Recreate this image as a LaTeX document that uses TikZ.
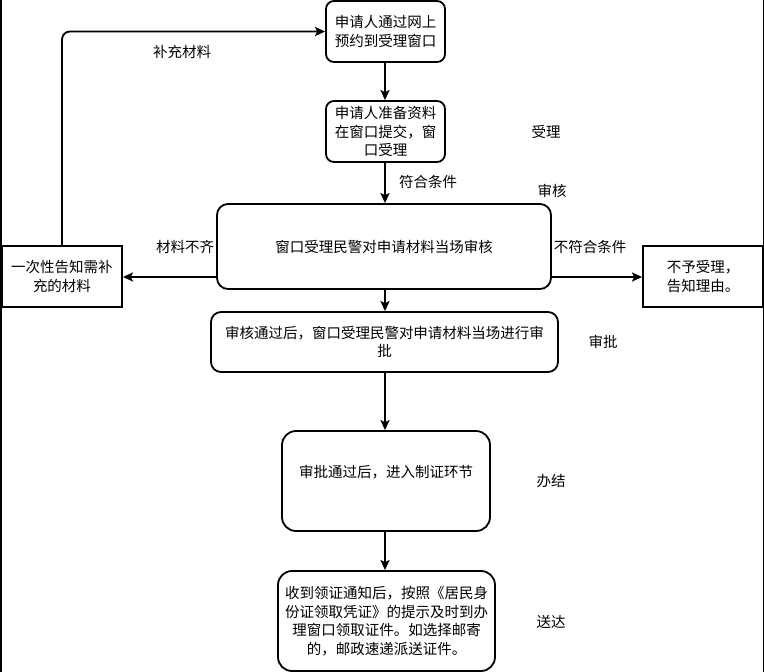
\documentclass[tikz,border=0pt]{standalone}
\usepackage{fontspec}
\setmainfont{Noto Sans CJK SC}
\usetikzlibrary{arrows.meta,calc}
\tikzset{
  box/.style={draw, line width=1.8pt, rounded corners=8pt, align=center, inner sep=2pt,
    font=\fontsize{14.5}{18.5}\selectfont},
  sqbox/.style={draw, line width=1.8pt, align=center, inner sep=2pt,
    font=\fontsize{14.5}{18.5}\selectfont},
  lbl/.style={inner sep=1pt, font=\fontsize{14.5}{18.5}\selectfont},
  arr/.style={line width=1.8pt, -{Stealth[length=10pt,width=9pt,inset=2pt]}},
}
\begin{document}
\begin{tikzpicture}[x=1pt,y=-1pt]
\useasboundingbox (0,0) rectangle (764,672);
\draw[line width=1.5pt] (0.75,0) -- (0.75,672);
\draw[line width=1.5pt] (763.25,0) -- (763.25,672);

\node[box, minimum width=119pt, minimum height=61pt] (b1) at (385.5,31.5) {申请人通过网上\\预约到受理窗口};
\node[box, minimum width=119pt, minimum height=61pt] (b2) at (385.5,131.5) {申请人准备资料\\在窗口提交，窗\\口受理};
\node[box, rounded corners=11pt, minimum width=334pt, minimum height=85pt] (b3) at (384,246.5) {窗口受理民警对申请材料当场审核};
\node[sqbox, minimum width=120pt, minimum height=61pt] (lb) at (62,276.5) {一次性告知需补\\充的材料};
\node[sqbox, minimum width=120pt, minimum height=61pt] (rb) at (703,276.5) {不予受理，\\告知理由。};
\node[box, rounded corners=10pt, minimum width=347pt, minimum height=60pt] (b4) at (384.5,342) {审核通过后，窗口受理民警对申请材料当场进行审\\批};
\node[box, rounded corners=14pt, minimum width=208pt, minimum height=100pt, text depth=19pt] (b5) at (386,481) {审批通过后，进入制证环节};
\node[box, rounded corners=14pt, minimum width=217pt, minimum height=100pt] (b6) at (386.5,621) {收到领证通知后，按照《居民身\\份证领取凭证》的提示及时到办\\理窗口领取证件。如选择邮寄\\的，邮政速递派送证件。};

\draw[arr] (b1.south -| 385,0) -- (b2.north -| 385,0);
\draw[arr] (b2.south -| 385,0) -- (b3.north -| 385,0);
\draw[arr] (b3.south -| 385,0) -- (b4.north -| 385,0);
\draw[arr] (b4.south -| 385,0) -- (b5.north -| 385,0);
\draw[arr] (b5.south -| 385,0) -- (b6.north -| 385,0);
\draw[arr] (b3.west |- 0,277) -- (lb.east |- 0,277);
\draw[arr] (b3.east |- 0,277) -- (rb.west |- 0,277);
\draw[arr, rounded corners=8pt] (lb.north) |- (b1.west);

\node[lbl] (l1) at (182,52) {补充材料};
\node[lbl] (l2) at (546,132) {受理};
\node[lbl] (l3) at (428,182) {符合条件};
\node[lbl] (l4) at (552,191) {审核};
\node[lbl] (l5) at (185,247) {材料不齐};
\node[lbl] (l6) at (590,247) {不符合条件};
\node[lbl] (l7) at (603,342) {审批};
\node[lbl] (l8) at (551,481) {办结};
\node[lbl] (l9) at (551,622) {送达};
\end{tikzpicture}
\end{document}
